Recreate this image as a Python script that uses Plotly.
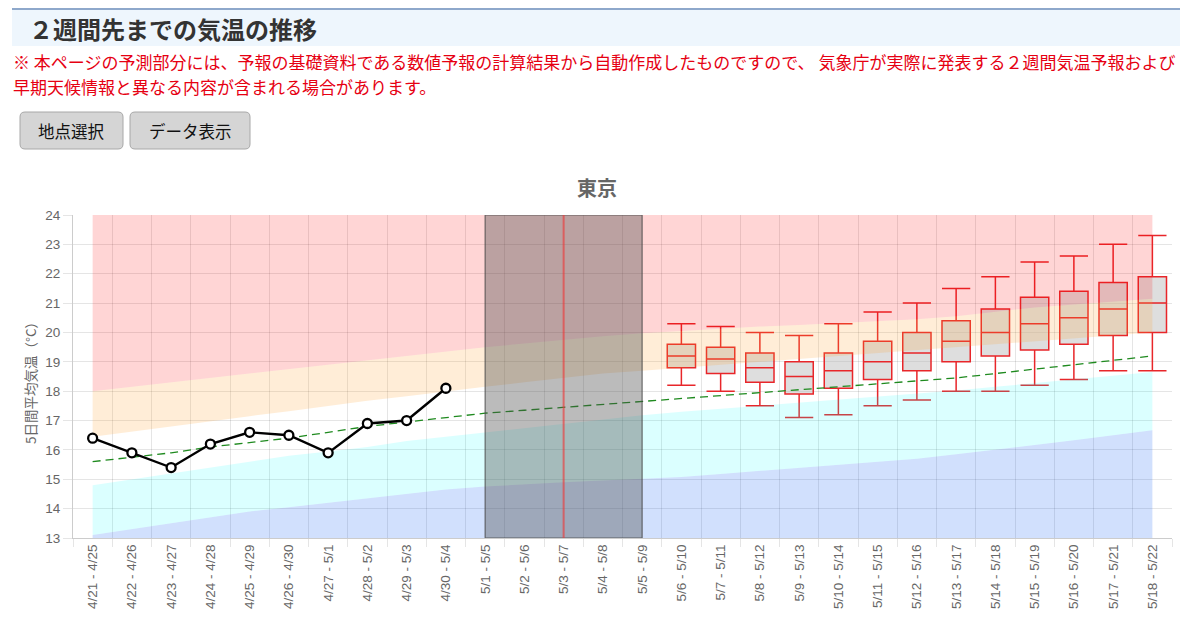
import plotly.graph_objects as go

# ---------------- data ----------------
periods = ["4/21 - 4/25", "4/22 - 4/26", "4/23 - 4/27", "4/24 - 4/28", "4/25 - 4/29",
           "4/26 - 4/30", "4/27 - 5/1", "4/28 - 5/2", "4/29 - 5/3", "4/30 - 5/4",
           "5/1 - 5/5", "5/2 - 5/6", "5/3 - 5/7", "5/4 - 5/8", "5/5 - 5/9",
           "5/6 - 5/10", "5/7 - 5/11", "5/8 - 5/12", "5/9 - 5/13", "5/10 - 5/14",
           "5/11 - 5/15", "5/12 - 5/16", "5/13 - 5/17", "5/14 - 5/18", "5/15 - 5/19",
           "5/16 - 5/20", "5/17 - 5/21", "5/18 - 5/22"]

observed = [16.4, 15.9, 15.4, 16.2, 16.6, 16.5, 15.9, 16.9, 17.0, 18.1]

normal = [15.6, 15.75, 15.9, 16.1, 16.25, 16.4, 16.6, 16.8, 16.95, 17.1,
          17.25, 17.35, 17.45, 17.55, 17.65, 17.75, 17.85, 17.95, 18.05, 18.15,
          18.25, 18.35, 18.45, 18.6, 18.75, 18.9, 19.05, 19.2]

# class boundaries (bottom of each coloured band)
band_floor = [13.0] * 28
much_below_top = [13.1, 13.3, 13.5, 13.7, 13.9, 14.05, 14.2, 14.35, 14.5, 14.65,
                  14.75, 14.83, 14.9, 14.96, 15.02, 15.08, 15.18, 15.28, 15.38, 15.48,
                  15.58, 15.7, 15.85, 16.0, 16.17, 16.33, 16.5, 16.67]
below_top = [14.8, 15.0, 15.2, 15.4, 15.6, 15.8, 15.95, 16.1, 16.3, 16.45,
             16.6, 16.75, 16.9, 17.05, 17.18, 17.3, 17.4, 17.5, 17.6, 17.7,
             17.8, 17.9, 18.02, 18.15, 18.28, 18.4, 18.52, 18.65]
normal_top = [16.45, 16.63, 16.8, 16.97, 17.15, 17.32, 17.5, 17.67, 17.83, 18.0,
              18.15, 18.3, 18.45, 18.6, 18.7, 18.8, 18.9, 19.0, 19.1, 19.2,
              19.3, 19.4, 19.5, 19.6, 19.7, 19.8, 19.9, 20.0]
above_top = [18.0, 18.15, 18.3, 18.45, 18.6, 18.75, 18.9, 19.05, 19.2, 19.35,
             19.5, 19.62, 19.75, 19.87, 19.97, 20.05, 20.12, 20.2, 20.25, 20.32,
             20.38, 20.45, 20.55, 20.7, 20.85, 20.95, 21.05, 21.15]
band_ceiling = [24.0] * 28

fc_periods = periods[15:]
fc_low = [18.2, 18.0, 17.5, 17.1, 17.2, 17.5, 17.7, 18.0, 18.0, 18.2, 18.4, 18.7, 18.7]
fc_q1 = [18.8, 18.6, 18.3, 17.9, 18.1, 18.4, 18.7, 19.0, 19.2, 19.4, 19.6, 19.9, 20.0]
fc_med = [19.2, 19.1, 18.8, 18.5, 18.7, 19.0, 19.3, 19.7, 20.0, 20.3, 20.5, 20.8, 21.0]
fc_q3 = [19.6, 19.5, 19.3, 19.0, 19.3, 19.7, 20.0, 20.4, 20.8, 21.2, 21.4, 21.7, 21.9]
fc_high = [20.3, 20.2, 20.0, 19.9, 20.3, 20.7, 21.0, 21.5, 21.9, 22.4, 22.6, 23.0, 23.3]

gap_start = "5/1 - 5/5"
gap_end = "5/5 - 5/9"
today = "5/3 - 5/7"

y_ticks = list(range(13, 25))

title_text = "東京"
y_title = "5日間平均気温（°C）"
header = "２週間先までの気温の推移"
notice1 = "※ 本ページの予測部分には、予報の基礎資料である数値予報の計算結果から自動作成したものですので、 気象庁が実際に発表する２週間気温予報および"
notice2 = "早期天候情報と異なる内容が含まれる場合があります。"
buttons = ["地点選択", "データ表示"]

# ---------------- layout geometry ----------------
# the page body has an 8px margin, so the figure is drawn 8px in from the corner
OFF = 8
W, H = 1200 - OFF, 629 - OFF
L, T = 73 - OFF, 215 - OFF
R = W - (1172 - OFF)
B = H - (538 - OFF)
PW, PH = W - L - R, H - T - B


def px(x):  # x in screenshot pixels -> paper
    return (x - OFF - L) / PW


def py(y):  # y in screenshot pixels -> paper
    return (H - B - (y - OFF)) / PH


JP = "Noto Sans CJK JP"
LAT = "Liberation Sans, Noto Sans CJK JP"

fig = go.Figure()

# coloured climatology bands
bands = [
    (band_floor, None),
    (much_below_top, "rgba(40,110,245,0.21)"),
    (below_top, "rgba(0,255,255,0.14)"),
    (normal_top, "rgba(255,255,255,0)"),
    (above_top, "rgba(255,160,40,0.19)"),
    (band_ceiling, "rgba(255,0,0,0.165)"),
]
for vals, col in bands:
    fig.add_trace(go.Scatter(
        x=periods, y=vals, mode="lines", line=dict(width=0),
        fill=None if col is None else "tonexty",
        fillcolor=col, hoverinfo="skip", showlegend=False))

# normal line
fig.add_trace(go.Scatter(
    x=periods, y=normal, mode="lines",
    line=dict(color="#1f8a1f", width=1.3, dash="8px,5px"),
    showlegend=False))

# observed
fig.add_trace(go.Scatter(
    x=periods[:len(observed)], y=observed, mode="lines+markers",
    line=dict(color="black", width=2.4),
    marker=dict(symbol="circle", size=9, color="white",
                line=dict(color="black", width=2.3)),
    showlegend=False))

# forecast boxes
fig.add_trace(go.Box(
    x=fc_periods, q1=fc_q1, median=fc_med, q3=fc_q3,
    lowerfence=fc_low, upperfence=fc_high,
    boxpoints=False, width=0.72, whiskerwidth=1,
    line=dict(color="#e8262a", width=1.5),
    fillcolor="rgba(185,185,185,0.47)",
    showlegend=False))

shapes = []
# gray gap rectangle
shapes.append(dict(type="rect", xref="x", yref="y", x0=gap_start, x1=gap_end,
                   y0=y_ticks[0], y1=y_ticks[-1],
                   fillcolor="rgba(75,75,75,0.38)",
                   line=dict(color="rgba(70,70,70,0.75)", width=1.2), layer="above"))
shapes.append(dict(type="line", xref="x", yref="y", x0=today, x1=today,
                   y0=y_ticks[0], y1=y_ticks[-1],
                   line=dict(color="rgba(235,60,60,0.65)", width=2), layer="above"))

# header
shapes.append(dict(type="rect", xref="paper", yref="paper",
                   x0=px(12), x1=px(1180), y0=py(46), y1=py(9),
                   fillcolor="#eef6fd", line=dict(width=0), layer="below"))
shapes.append(dict(type="line", xref="paper", yref="paper",
                   x0=px(12), x1=px(1180), y0=py(9), y1=py(9),
                   line=dict(color="#8ea8cb", width=2)))


def rounded(x0, y0, x1, y1, r):
    rx, ry = r / PW, r / PH
    X0, X1, Y0, Y1 = px(x0), px(x1), py(y1), py(y0)  # Y0 bottom, Y1 top
    return (f"M {X0+rx} {Y1} L {X1-rx} {Y1} Q {X1} {Y1} {X1} {Y1-ry} "
            f"L {X1} {Y0+ry} Q {X1} {Y0} {X1-rx} {Y0} "
            f"L {X0+rx} {Y0} Q {X0} {Y0} {X0} {Y0+ry} "
            f"L {X0} {Y1-ry} Q {X0} {Y1} {X0+rx} {Y1} Z")


btn_boxes = [(20, 123), (130, 250)]
for (bx0, bx1) in btn_boxes:
    shapes.append(dict(type="path", xref="paper", yref="paper",
                       path=rounded(bx0, 112, bx1, 149, 5),
                       fillcolor="#d5d5d5", line=dict(color="#a8a8a8", width=1)))

annotations = [
    dict(x=px(27), y=py(28), xref="paper", yref="paper", xanchor="left", yanchor="middle",
         text=f"<b>{header}</b>", showarrow=False,
         font=dict(family=JP, size=24, color="#333333")),
    dict(x=px(11), y=py(61), xref="paper", yref="paper", xanchor="left", yanchor="middle",
         text=notice1, showarrow=False,
         font=dict(family=JP, size=17, color="#e60012")),
    dict(x=px(11), y=py(86), xref="paper", yref="paper", xanchor="left", yanchor="middle",
         text=notice2, showarrow=False,
         font=dict(family=JP, size=17, color="#e60012")),
    dict(x=px(597), y=py(188), xref="paper", yref="paper", xanchor="center", yanchor="middle",
         text=f"<b>{title_text}</b>", showarrow=False,
         font=dict(family=JP, size=20, color="#666666")),
    dict(x=px(30), y=py(380), xref="paper", yref="paper", xanchor="center", yanchor="middle",
         text=y_title, textangle=-90, showarrow=False,
         font=dict(family=JP, size=13.5, color="#666666")),
]
for (bx0, bx1), label in zip(btn_boxes, buttons):
    annotations.append(dict(x=px((bx0 + bx1) / 2), y=py(130.5), xref="paper", yref="paper",
                            xanchor="center", yanchor="middle", text=label, showarrow=False,
                            font=dict(family=JP, size=16.5, color="#111111")))

fig.update_layout(
    width=W, height=H,
    margin=dict(l=L, r=R, t=T, b=B),
    paper_bgcolor="white", plot_bgcolor="white",
    font=dict(family=LAT, color="#666666"),
    showlegend=False,
    shapes=shapes, annotations=annotations,
    xaxis=dict(type="category", categoryorder="array", categoryarray=periods,
               range=[-0.5, len(periods) - 0.5], tickson="boundaries",
               showgrid=True, gridcolor="rgba(0,0,0,0.1)", gridwidth=1,
               ticks="outside", ticklen=8, tickcolor="rgba(0,0,0,0.1)",
               tickangle=-90, tickfont=dict(size=13.5, color="#666666"),
               showline=True, linecolor="rgba(0,0,0,0.2)", zeroline=False,
               fixedrange=True),
    yaxis=dict(range=[y_ticks[0], y_ticks[-1]], tickvals=y_ticks,
               showgrid=True, gridcolor="rgba(0,0,0,0.1)", gridwidth=1,
               ticks="outside", ticklen=9, tickcolor="rgba(0,0,0,0.1)",
               tickfont=dict(size=13.5, color="#666666"),
               showline=True, linecolor="rgba(0,0,0,0.2)", zeroline=False,
               fixedrange=True),
)

fig.write_html("out.html")
